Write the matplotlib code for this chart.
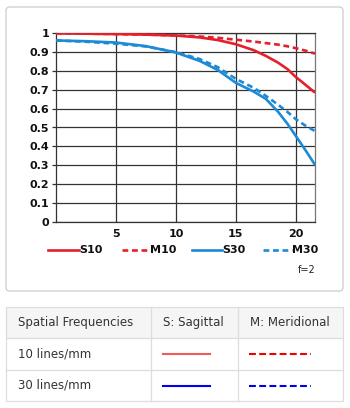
import matplotlib
matplotlib.use("Agg")
import matplotlib.pyplot as plt
from matplotlib.patches import FancyBboxPatch, Rectangle
from matplotlib.lines import Line2D

# ---- data ----
x_pos = [0, 2.5, 5, 7.5, 10, 12, 13.5, 15, 16.5, 17.5, 18.5, 19.3, 20, 20.8, 21.6]
s10 = [1.0, 0.998, 0.996, 0.993, 0.988, 0.978, 0.964, 0.942, 0.91, 0.88, 0.845, 0.81, 0.768, 0.727, 0.685]
m10 = [1.0, 0.998, 0.996, 0.993, 0.989, 0.983, 0.976, 0.966, 0.956, 0.948, 0.94, 0.931, 0.921, 0.908, 0.892]
s30 = [0.962, 0.958, 0.951, 0.932, 0.898, 0.853, 0.805, 0.737, 0.69, 0.652, 0.585, 0.52, 0.455, 0.38, 0.302]
m30 = [0.962, 0.955, 0.945, 0.93, 0.9, 0.863, 0.82, 0.758, 0.71, 0.668, 0.622, 0.583, 0.544, 0.51, 0.481]
series_names = ["S10", "M10", "S30", "M30"]
x_ticks = [5, 10, 15, 20]
y_ticks = [0, 0.1, 0.2, 0.3, 0.4, 0.5, 0.6, 0.7, 0.8, 0.9, 1]
y_tick_labels = ["0", "0.1", "0.2", "0.3", "0.4", "0.5", "0.6", "0.7", "0.8", "0.9", "1"]
table_header = ["Spatial Frequencies", "S: Sagittal", "M: Meridional"]
table_rows = ["10 lines/mm", "30 lines/mm"]

RED = "#e5202b"
BLUE = "#1c8ad6"
colors = [RED, RED, BLUE, BLUE]
styles = ["-", (0, (2.2, 1.4)), "-", (0, (2.2, 1.4))]
series = [s10, m10, s30, m30]

W, H = 350, 408
fig = plt.figure(figsize=(W / 100, H / 100), dpi=100)
fig.patch.set_facecolor("white")

def fx(px):
    return px / W

def fy(py):
    return 1 - py / H

# panel box
panel = FancyBboxPatch((fx(6), fy(291)), fx(343) - fx(6), fy(7) - fy(291),
                       boxstyle="round,pad=0,rounding_size=0.01",
                       transform=fig.transFigure, facecolor="white",
                       edgecolor="#cccccc", linewidth=0.9, zorder=-5)
fig.add_artist(panel)

ax = fig.add_axes([fx(56), fy(221.7), fx(315) - fx(56), fy(33.3) - fy(221.7)])
ax.set_zorder(2)
ax.patch.set_alpha(0)
ax.set_xlim(0, 21.6)
ax.set_ylim(0, 1)
for xs, c, ls in zip(series, colors, styles):
    ax.plot(x_pos, xs, color=c, linestyle=ls, linewidth=1.9, zorder=3,
            solid_capstyle="butt", dash_capstyle="butt")
ax.set_xticks(x_ticks)
ax.set_yticks(y_ticks)
ax.set_yticklabels(y_tick_labels)
ax.grid(True, color="#333333", linewidth=0.9)
ax.set_axisbelow(True)
for sp in ax.spines.values():
    sp.set_color("#333333")
    sp.set_linewidth(0.9)
ax.spines["right"].set_color("#777777")
ax.tick_params(axis="both", length=3, width=0.9, color="#333333",
               labelsize=8, pad=2)
ax.tick_params(axis="x", length=0, pad=5)
for lab in ax.get_xticklabels() + ax.get_yticklabels():
    lab.set_fontweight("bold")
    lab.set_color("#111111")

# legend (manual)
leg_y = fy(250)
leg_items = [(48, 79), (122, 150), (192, 222), (263, 292)]
for (x0, x1), name, c, ls in zip(leg_items, series_names, colors, styles):
    fig.add_artist(Line2D([fx(x0), fx(x1)], [leg_y, leg_y], color=c,
                          linestyle=ls, linewidth=1.9,
                          transform=fig.transFigure))
    fig.text(fx(x1), leg_y, name, ha="left", va="center", fontsize=8,
             fontweight="bold", color="#111111")
fig.text(fx(316), fy(270), "f=2", ha="right", va="center", fontsize=7,
         color="#222222")

# table
tx0, tx1 = 6, 343
ty = [307, 338, 370, 401]
cx = [6, 150.7, 237.7, 343]
fig.add_artist(Rectangle((fx(tx0), fy(ty[1])), fx(tx1) - fx(tx0), fy(ty[0]) - fy(ty[1]),
                         transform=fig.transFigure, facecolor="#f5f5f5",
                         edgecolor="none"))
fig.add_artist(Rectangle((fx(tx0), fy(ty[3])), fx(tx1) - fx(tx0), fy(ty[0]) - fy(ty[3]),
                         transform=fig.transFigure, facecolor="none",
                         edgecolor="#dddddd", linewidth=0.9))
for yy in ty[1:3]:
    fig.add_artist(Line2D([fx(tx0), fx(tx1)], [fy(yy), fy(yy)], color="#dddddd",
                          linewidth=0.9, transform=fig.transFigure))
for xx in cx[1:3]:
    fig.add_artist(Line2D([fx(xx), fx(xx)], [fy(ty[0]), fy(ty[3])], color="#dddddd",
                          linewidth=0.9, transform=fig.transFigure))
txt_kw = dict(fontsize=8.5, color="#333333", va="center", ha="left")
for i, h in enumerate(table_header):
    fig.text(fx(cx[i] + 12), fy((ty[0] + ty[1]) / 2), h, **txt_kw)
for r, name in enumerate(table_rows):
    yc = fy((ty[r + 1] + ty[r + 2]) / 2)
    fig.text(fx(cx[0] + 12), yc, name, **txt_kw)
row_cols = [("#f55a5a", "#ee0000"), ("#0000ee", "#0000ee")]
for r in range(2):
    yc = fy((ty[r + 1] + ty[r + 2]) / 2)
    cs, cm = row_cols[r]
    fig.add_artist(Line2D([fx(163), fx(210)], [yc, yc], color=cs, linewidth=1.5,
                          transform=fig.transFigure))
    fig.add_artist(Line2D([fx(249), fx(311)], [yc, yc], color=cm, linewidth=1.5,
                          linestyle=(0, (3.3, 1.6)), transform=fig.transFigure))

fig.savefig("out.png", dpi=100, facecolor="white")
